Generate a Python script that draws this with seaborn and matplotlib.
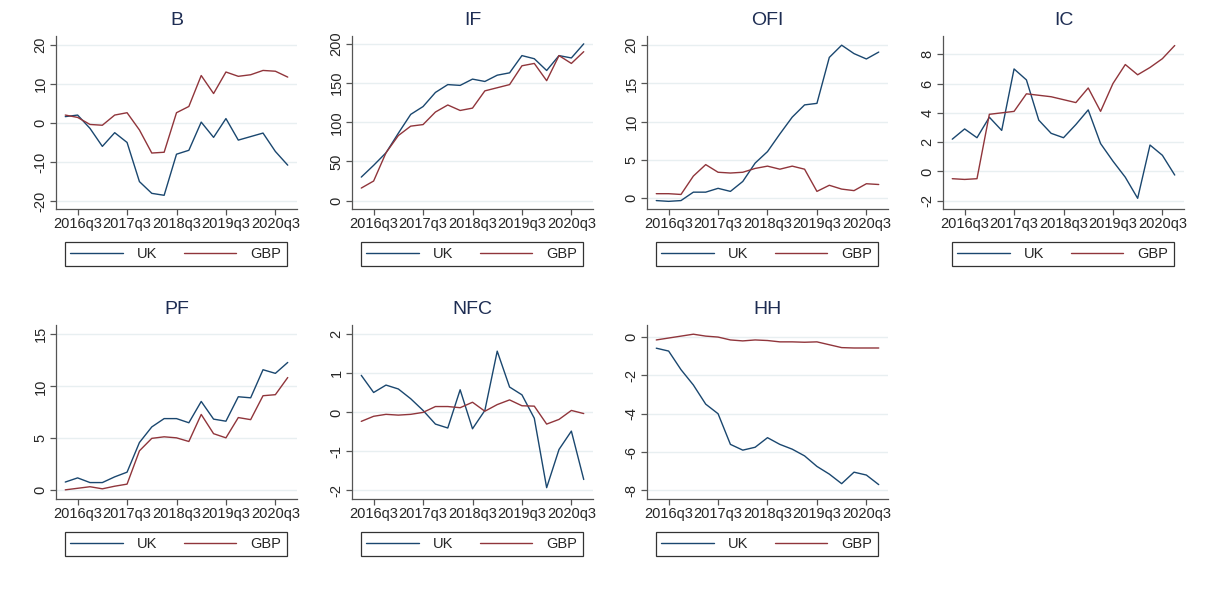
import matplotlib
matplotlib.use("Agg")
import matplotlib.pyplot as plt
import seaborn as sns
import pandas as pd
import numpy as np

# quarters 2016q2 .. 2020q4
quarters = ['2016q2', '2016q3', '2016q4', '2017q1', '2017q2', '2017q3', '2017q4',
            '2018q1', '2018q2', '2018q3', '2018q4', '2019q1', '2019q2', '2019q3',
            '2019q4', '2020q1', '2020q2', '2020q3', '2020q4']
tick_labels = ['2016q3', '2017q3', '2018q3', '2019q3', '2020q3']

b_uk = [1.6, 2.0, -1.4, -6.0, -2.5, -5.0, -15.0, -18.0, -18.5, -8.0, -7.0, 0.2, -3.7, 1.1, -4.4, -3.5, -2.6, -7.3, -10.8]
b_gbp = [2.0, 1.4, -0.4, -0.6, 2.0, 2.6, -1.8, -7.7, -7.5, 2.6, 4.2, 12.1, 7.5, 13.0, 11.9, 12.3, 13.4, 13.2, 11.7]

if_uk = [30, 45, 61, 86, 110, 120, 138, 148, 147, 155, 152, 160, 163, 185, 181, 166, 185, 182, 200]
if_gbp = [16, 25, 61, 83, 95, 97, 113, 122, 115, 118, 140, 144, 148, 172, 175, 153, 185, 175, 190]

ofi_uk = [-0.3, -0.4, -0.3, 0.8, 0.8, 1.3, 0.9, 2.2, 4.6, 6.1, 8.4, 10.6, 12.2, 12.4, 18.4, 20.0, 18.9, 18.2, 19.1]
ofi_gbp = [0.6, 0.6, 0.5, 2.9, 4.4, 3.4, 3.3, 3.4, 3.9, 4.2, 3.8, 4.2, 3.8, 0.9, 1.7, 1.2, 1.0, 1.9, 1.8]

ic_uk = [2.2, 2.9, 2.3, 3.7, 2.8, 7.0, 6.25, 3.5, 2.6, 2.3, 3.2, 4.2, 1.9, 0.7, -0.4, -1.84, 1.8, 1.1, -0.25]
ic_gbp = [-0.5, -0.55, -0.5, 3.9, 4.0, 4.1, 5.3, 5.2, 5.1, 4.9, 4.7, 5.7, 4.1, 6.0, 7.3, 6.6, 7.1, 7.7, 8.6]

pf_uk = [0.8, 1.2, 0.75, 0.75, 1.3, 1.75, 4.6, 6.1, 6.9, 6.9, 6.5, 8.55, 6.85, 6.65, 9.0, 8.9, 11.6, 11.25, 12.3]
pf_gbp = [0.05, 0.2, 0.35, 0.15, 0.4, 0.6, 3.8, 5.0, 5.15, 5.05, 4.7, 7.3, 5.45, 5.05, 7.0, 6.8, 9.1, 9.2, 10.85]

nfc_uk = [0.95, 0.51, 0.7, 0.6, 0.35, 0.05, -0.3, -0.4, 0.58, -0.42, 0.05, 1.57, 0.65, 0.45, -0.15, -1.93, -0.95, -0.48, -1.72]
nfc_gbp = [-0.23, -0.1, -0.05, -0.07, -0.05, 0.0, 0.15, 0.15, 0.12, 0.26, 0.03, 0.2, 0.32, 0.17, 0.16, -0.3, -0.18, 0.05, -0.03]

hh_uk = [-0.58, -0.73, -1.7, -2.5, -3.5, -4.0, -5.6, -5.9, -5.75, -5.25, -5.6, -5.85, -6.2, -6.75, -7.15, -7.65, -7.05, -7.2, -7.7]
hh_gbp = [-0.15, -0.05, 0.05, 0.15, 0.05, 0.0, -0.15, -0.2, -0.15, -0.18, -0.25, -0.25, -0.27, -0.25, -0.4, -0.55, -0.57, -0.57, -0.57]

panels = [
    ('B', b_uk, b_gbp, [-20, -10, 0, 10, 20], (-22, 22.2)),
    ('IF', if_uk, if_gbp, [0, 50, 100, 150, 200], (-10.7, 210)),
    ('OFI', ofi_uk, ofi_gbp, [0, 5, 10, 15, 20], (-1.4, 21.2)),
    ('IC', ic_uk, ic_gbp, [-2, 0, 2, 4, 6, 8], (-2.57, 9.25)),
    ('PF', pf_uk, pf_gbp, [0, 5, 10, 15], (-0.83, 15.9)),
    ('NFC', nfc_uk, nfc_gbp, [-2, -1, 0, 1, 2], (-2.22, 2.24)),
    ('HH', hh_uk, hh_gbp, [-8, -6, -4, -2, 0], (-8.45, 0.63)),
]

# axes positions in pixels (left, top, right, bottom)
boxes = [(56, 36, 297, 209), (352, 36, 593, 209), (647, 36, 888, 209), (943, 36, 1184, 209),
         (56, 325, 297, 499), (352, 325, 593, 499), (647, 325, 888, 499)]

sns.set_style('white')
plt.rcParams['font.family'] = ['Liberation Sans', 'DejaVu Sans']
plt.rcParams['axes.unicode_minus'] = False

W, H = 1207, 589
fig = plt.figure(figsize=(W / 100, H / 100), dpi=100)
palette = {'UK': '#1a476f', 'GBP': '#90353b'}
x_idx = np.arange(len(quarters))

for (name, uk, gbp, yticks, ylim), (l, t, r, b) in zip(panels, boxes):
    ax = fig.add_axes([l / W, 1 - b / H, (r - l) / W, (b - t) / H])
    df = pd.DataFrame({'t': np.concatenate([x_idx, x_idx]),
                       'value': uk + gbp,
                       'series': ['UK'] * len(uk) + ['GBP'] * len(gbp)})
    sns.lineplot(data=df, x='t', y='value', hue='series', palette=palette,
                 linewidth=1.0, legend=False, ax=ax)
    ax.set_xlim(-0.75, len(quarters) - 0.25)
    ax.set_ylim(*ylim)
    ax.set_xticks([quarters.index(q) for q in tick_labels])
    ax.set_xticklabels(tick_labels, fontsize=10.5)
    ax.set_yticks(yticks)
    ax.set_yticklabels([str(v) for v in yticks], fontsize=10.5, rotation=90, va='center')
    ax.set_xlabel('')
    ax.set_ylabel('')
    ax.set_title(name, fontsize=14, color='#1e2d53', pad=8)
    for v in yticks:
        ax.axhline(v, color='#e8eff1', lw=1.0, zorder=0)
    for s in ['top', 'right']:
        ax.spines[s].set_visible(False)
    for s in ['left', 'bottom']:
        ax.spines[s].set_color('#555555')
        ax.spines[s].set_linewidth(0.9)
    ax.tick_params(axis='both', direction='out', length=4, width=0.9, color='#555555',
                   left=True, bottom=True, pad=2)
    handles = ax.get_lines()[:2]
    leg = ax.legend(handles, ['UK', 'GBP'], loc='center', ncol=2, mode='expand',
                    bbox_to_anchor=(0.037, -0.33, 0.92, 0.14), frameon=True,
                    fancybox=False, edgecolor='black', fontsize=10.5, handlelength=3.6,
                    borderpad=0.35, columnspacing=1.0, handletextpad=1.0, borderaxespad=0)
    leg.get_frame().set_linewidth(0.9)

fig.savefig('out.png', dpi=100, facecolor='white')
